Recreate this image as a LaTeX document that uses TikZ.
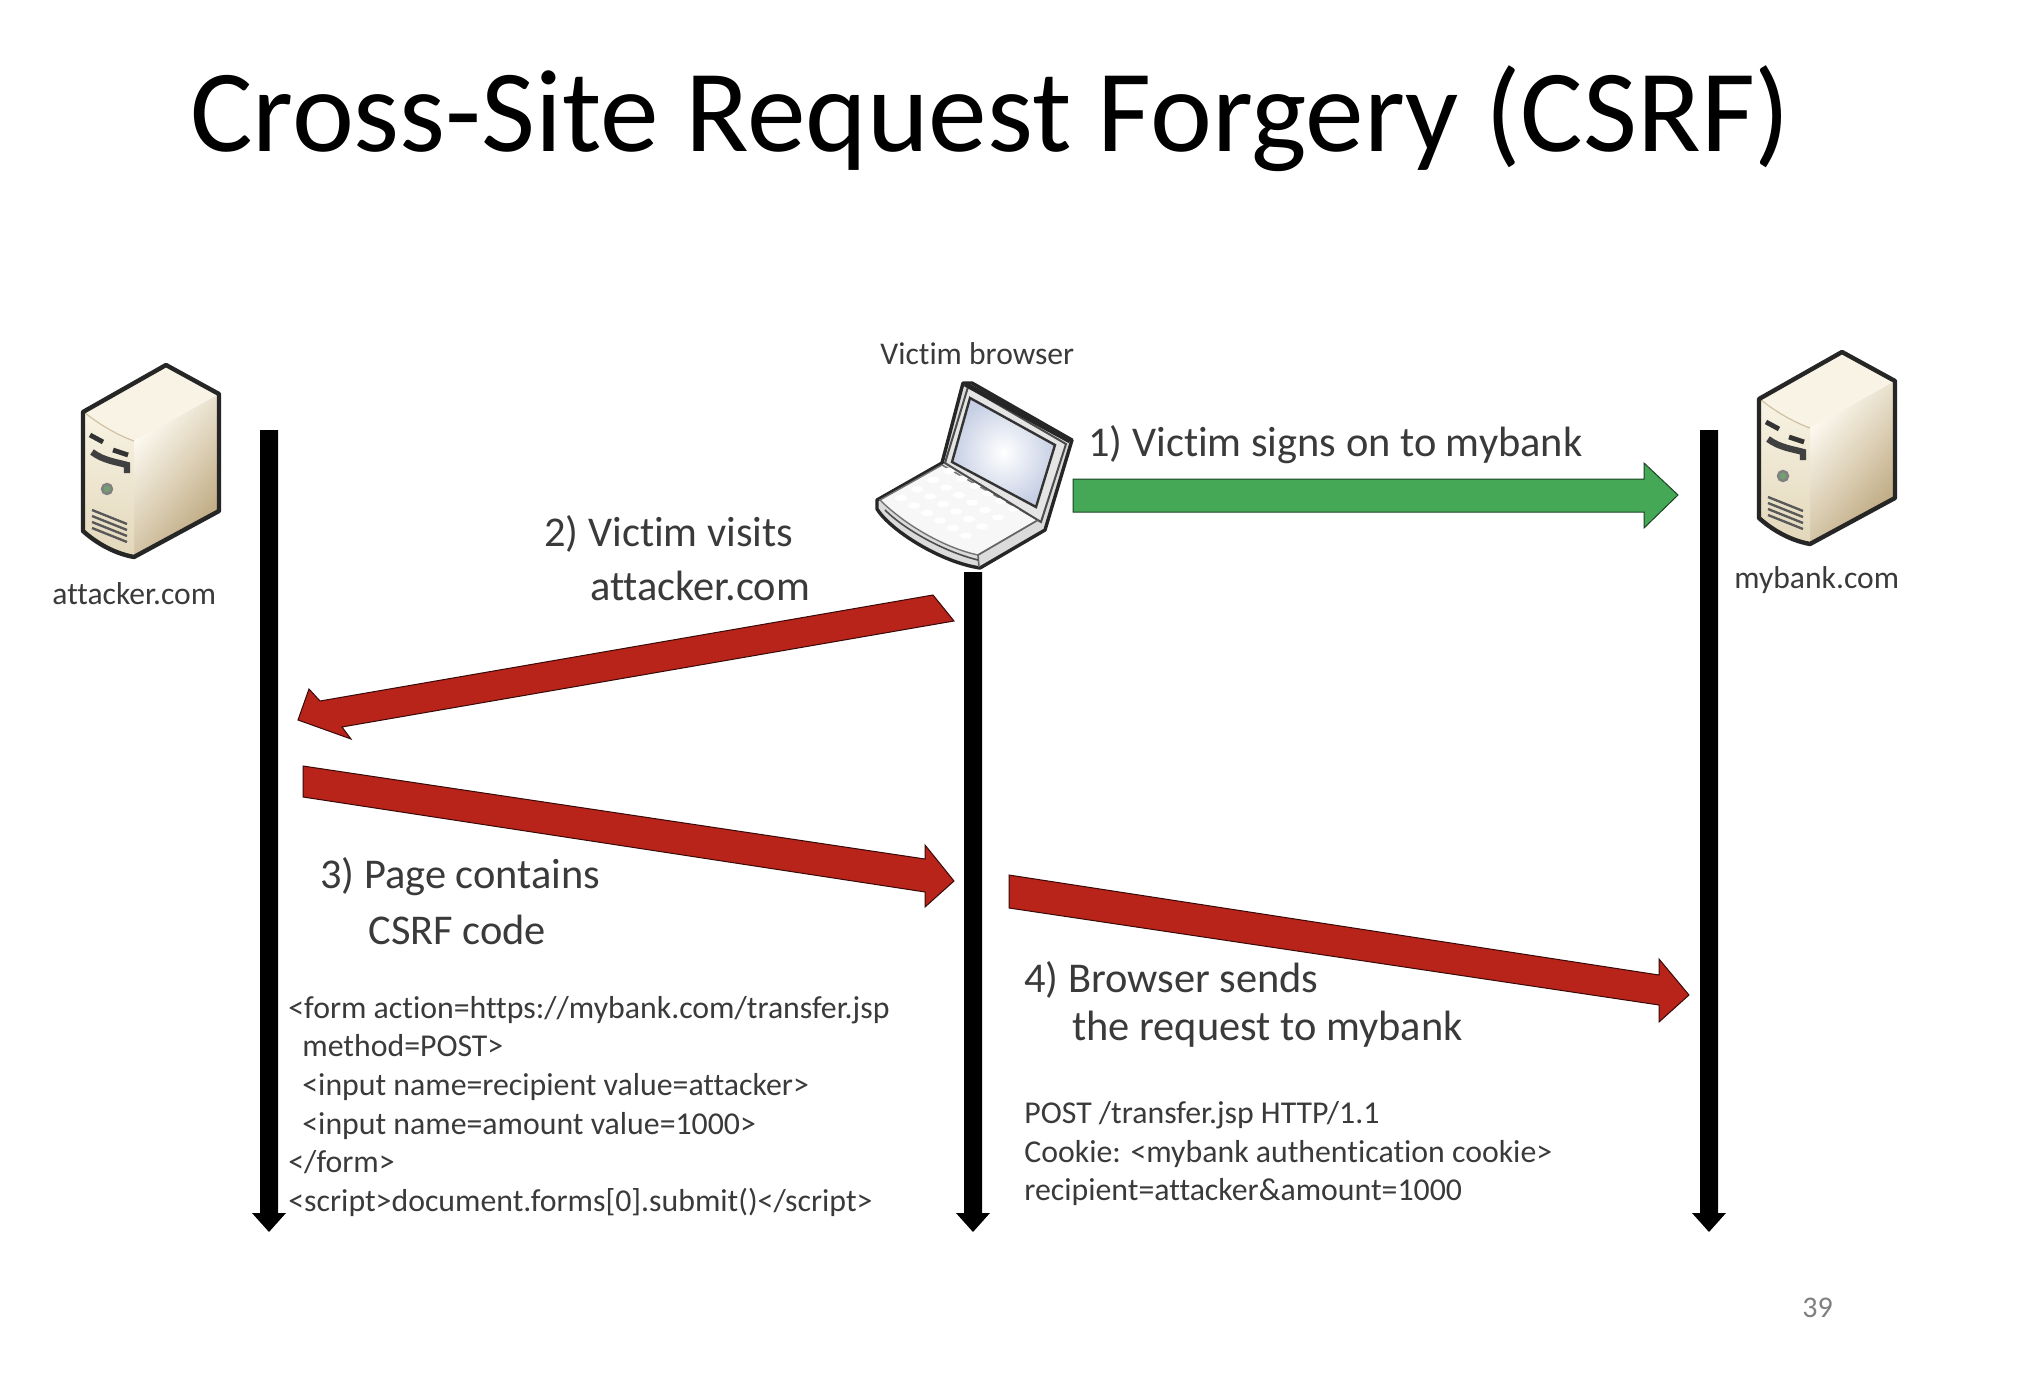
\documentclass[tikz,border=0pt]{standalone}
\usepackage{fontspec}
\setmainfont{Carlito}[Ligatures=NoCommon]
\definecolor{txt}{HTML}{3A3A3A}
\definecolor{redf}{HTML}{B8231A}
\definecolor{grn}{HTML}{45A856}
\definecolor{cream}{HTML}{F8F3E4}
\definecolor{creamb}{HTML}{FFFDF5}
\definecolor{tanc}{HTML}{BCA67C}
\definecolor{frontb}{HTML}{E2D7BA}
\definecolor{scrn}{HTML}{C6CFE4}
\tikzset{
 lbl/.style={inner sep=0pt,anchor=base west,text=txt,font=\fontsize{21.2}{24}\selectfont},
 code/.style={inner sep=0pt,anchor=base west,text=txt,font=\fontsize{15.9}{18}\selectfont},
 small/.style={inner sep=0pt,anchor=base west,text=txt,font=\fontsize{15.8}{18}\selectfont},
 blk/.style={fill=black,draw=none},
 redar/.style={fill=redf,draw=black!70!redf,line width=0.5pt,line join=miter},
 grnar/.style={fill=grn,draw=black!60!grn,line width=0.5pt},
 outl/.style={draw=black!85,line width=1.7pt,line join=round},
}
\newcommand{\serverico}[2]{%
\begin{scope}[shift={(#1,#2)}]
 \fill[cream] (2,47)--(84,1)--(136,29)--(52,76) .. controls (35,70) and (15,58) .. (2,47)--cycle;
 \shade[top color=creamb,bottom color=tanc,shading angle=50] (52,76)--(137,29)--(137,146)--(52,192)--cycle;
 \shade[top color=cream,bottom color=frontb] (2,47) .. controls (15,58) and (35,70) .. (52,76)--(52,192) .. controls (30,188) and (12,176) .. (2,166)--cycle;
 \draw[tanc!70,line width=0.6pt] (2,47) .. controls (15,58) and (35,70) .. (52,76);
 \draw[outl,line width=2.2pt] (1,47)--(84,0)--(137,29)--(137,146)--(52,192) .. controls (30,188) and (12,176) .. (1,166)--cycle;
 \draw[line width=2.4pt,black!80] (8,70)--(21,77) (31,85)--(46,90);
 \draw[line width=3.2pt,black!75] (10,87) .. controls (22,96) and (35,97) .. (45,100)--(45,108);
 \draw[fill=green!30!black!55,draw=black!50,line width=1.2pt] (25,124) circle (5);
 \foreach \y in {0,6,12,18}{\draw[line width=1.2pt,black!65] (10,145+\y)--(45,159+\y);}
\end{scope}}
\begin{document}
\begin{tikzpicture}[x=0.5pt,y=-0.5pt]
\useasboundingbox (0,0) rectangle (2026,1392);
\fill[white] (0,0) rectangle (2026,1392);
\node[inner sep=0pt,anchor=base west,font=\fontsize{58.7}{66}\selectfont,text=black] (title) at (190,151) {Cross-Site Request Forgery (CSRF)};
% lifelines
\coordinate (ltop) at (269,430); \coordinate (lend) at (269,1232);
\coordinate (mtop) at (973,572); \coordinate (mend) at (973,1232);
\coordinate (rtop) at (1709,430); \coordinate (rend) at (1709,1232);
\foreach \t/\e/\x in {ltop/lend/269,mtop/mend/973,rtop/rend/1709}{
 \fill[blk] (\t)++(-9,0) -- ++(18,0) -- (\x+9,1213) -- (\x+17,1213) -- (\e) -- (\x-17,1213) -- (\x-9,1213) -- cycle;
}
\serverico{82}{365}
\serverico{1758}{352}
% laptop
\begin{scope}
 \fill[outl,fill=black!14] (877,500)--(942,463)--(963,383)--(972,383)--(1072,440)--(1045,530)--(980,568) .. controls (940,562) and (890,530) .. (877,509)--cycle;
 \fill[black!3,draw=black!55,line width=0.7pt] (880,500)--(942,465)--(1038,520)--(978,555) .. controls (945,548) and (905,525) .. (880,500)--cycle;
 \foreach \a in {0,1,2,3,4,5}{\foreach \b in {0,1,2,3}{
  \fill[white] ({901+\a*13+\b*16},{498+\a*7.5-\b*9}) ellipse (6 and 3);}}
 \fill[black!10,draw=black!70,line width=1pt] (945,463)--(968,387)--(1066,444)--(1041,522)--cycle;
 \path[draw=black!80,line width=1.2pt,inner color=white,outer color=scrn] (952,462)--(970,398)--(1055,445)--(1036,507)--cycle;
 \draw[black!85,line width=2.4pt] (965,384)--(1070,441);
 \draw[black!60,line width=0.8pt] (978,555)--(979,567) (978,555)--(1038,520);
 \draw[black!70,line width=0.8pt] (885,510) .. controls (905,530) and (945,552) .. (978,560);
\end{scope}
% arrows
\fill[grnar] (1073,479)--(1644,479)--(1644,463)--(1678,495)--(1644,528)--(1644,512)--(1073,512)--cycle;
\fill[redar] (933,595)--(954,621)--(342,727)--(351,739)--(298,720)--(309,689)--(320,701)--cycle;
\fill[redar] (303,766)--(925,859)--(925,845)--(954,881)--(925,907)--(925,892)--(303,797)--cycle;
\fill[redar] (1009,875)--(1659,975)--(1659,959)--(1689,995)--(1659,1022)--(1659,1005)--(1009,908)--cycle;
% labels
\node[small] (vb) at (880,364) {Victim browser};
\node[small] (att) at (52,604.5) {attacker.com};
\node[small] (mb) at (1734,588) {mybank.com};
\node[lbl] (s1) at (1088,456) {1) Victim signs on to mybank};
\node[lbl] (s2a) at (544,546) {2) Victim visits};
\node[lbl] (s2b) at (590,600) {attacker.com};
\node[lbl] (s3a) at (320,888) {3) Page contains};
\node[lbl] (s3b) at (368,944) {CSRF code};
\node[lbl] (s4a) at (1024,992) {4) Browser sends};
\node[lbl] (s4b) at (1072,1040) {the request to mybank};
\node[code] (c1) at (288,1018) {<form action=https://mybank.com/transfer.jsp};
\node[code] (c2) at (302,1056) {method=POST>};
\node[code] (c3) at (302,1095) {<input name=recipient value=attacker>};
\node[code] (c4) at (302,1134) {<input name=amount value=1000>};
\node[code] (c5) at (288,1172) {</form>};
\node[code] (c6) at (288,1211) {<script>document.forms[0].submit()</script>};
\node[code] (p1) at (1024,1123.5) {POST /transfer.jsp HTTP/1.1};
\node[code] (p2) at (1024,1162.5) {Cookie: <mybank authentication cookie>};
\node[code] (p3) at (1024,1200.5) {recipient=attacker\&amount=1000};
\node[inner sep=0pt,anchor=base west,text=black!50,font=\fontsize{15}{18}\selectfont] (pg) at (1802,1317) {39};
\end{tikzpicture}
\end{document}
